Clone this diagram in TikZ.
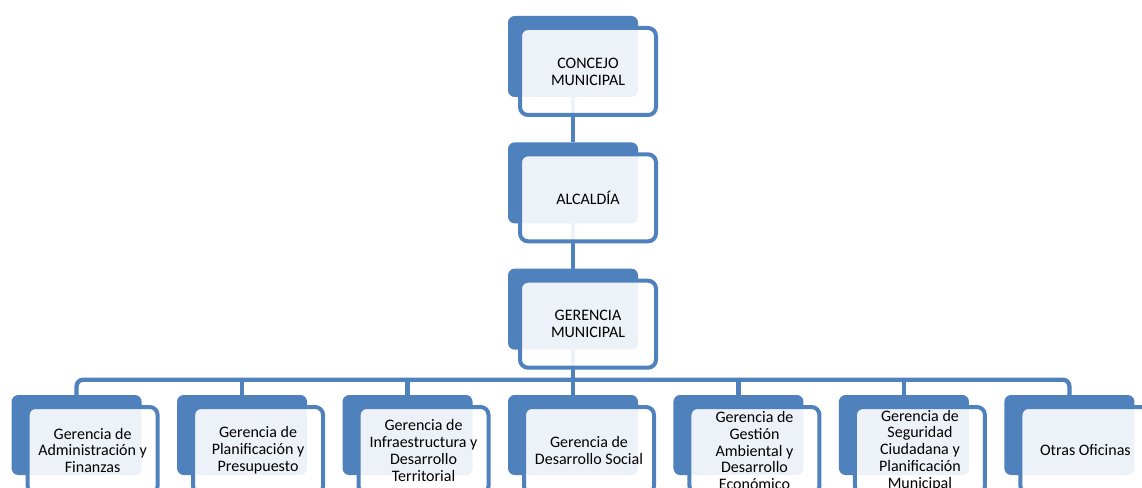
\documentclass[tikz,border=0pt]{standalone}
\usepackage{fontspec}
\setmainfont{Carlito}
\usetikzlibrary{positioning,backgrounds}
\definecolor{orgblue}{RGB}{79,129,189}

\begin{document}
\begin{tikzpicture}[
    unit/.style = {shape=rectangle, rounded corners=6pt,
    draw=orgblue, line width=3pt, fill=white, fill opacity=0.9,
    text opacity=1, align=center, inner sep=0pt,
    minimum width=102pt, minimum height=65.25pt,
    font=\fontsize{12pt}{12.6pt}\selectfont},
    office/.style = {unit, minimum width=97.5pt},
    backbox/.style = {shape=rectangle, rounded corners=5pt,
    fill=orgblue, inner sep=0pt, outer sep=0pt,
    minimum width=97.5pt, minimum height=60.75pt},
    link/.style = {draw=orgblue, line width=3.2pt},
    node distance=26.5pt and 23.6pt,
    ]
  \clip (0,0) rectangle (856.5pt,-366pt);

  \node[unit, anchor=north west] (concejo) at (388.5pt,-19.5pt) {CONCEJO\\MUNICIPAL};
  \node[unit, below=of concejo] (alcaldia) {ALCALDÍA};
  \node[unit, below=of alcaldia] (gerencia) {GERENCIA\\MUNICIPAL};

  % gerencias
  \node[office, below=of gerencia, xshift=0.75pt] (social) {Gerencia de\\Desarrollo Social};
  \node[office, left=of social] (infra) {Gerencia de\\Infraestructura y\\Desarrollo\\Territorial};
  \node[office, left=of infra] (plan) {Gerencia de\\Planificación y\\Presupuesto};
  \node[office, left=of plan] (adm) {Gerencia de\\Administración y\\Finanzas};
  \node[office, right=of social] (gestion) {Gerencia de\\Gestión\\Ambiental y\\Desarrollo\\Económico};
  \node[office, right=of gestion] (seguridad) {Gerencia de\\Seguridad\\Ciudadana y\\Planificación\\Municipal};
  \node[office, right=of seguridad] (otras) {Otras Oficinas};

  \begin{scope}[on background layer]
    \foreach \n in {concejo,alcaldia,gerencia}
      \node[backbox, anchor=north west] (\n-b) at ([shift={(-7.5pt,7.5pt)}]\n.north west) {};
    \foreach \n in {adm,plan,infra,social,gestion,seguridad,otras}
      \node[backbox, minimum height=60pt, anchor=north west] (\n-b) at ([shift={(-10.5pt,7.5pt)}]\n.north west) {};

    \draw[link] (concejo-b) -- (alcaldia-b);
    \draw[link] (alcaldia-b) -- (gerencia-b);
    \path (gerencia-b.south |- gerencia.south) ++(0,-7.5pt) coordinate (bus);
    \draw[link] (gerencia-b) -- (bus);
    \draw[link, rounded corners=5pt] (adm-b) |- (bus) -| (otras-b);
    \foreach \n in {plan,infra,social,gestion,seguridad}
      \draw[link] (\n-b) -- (\n-b |- bus);
  \end{scope}
\end{tikzpicture}
\end{document}
